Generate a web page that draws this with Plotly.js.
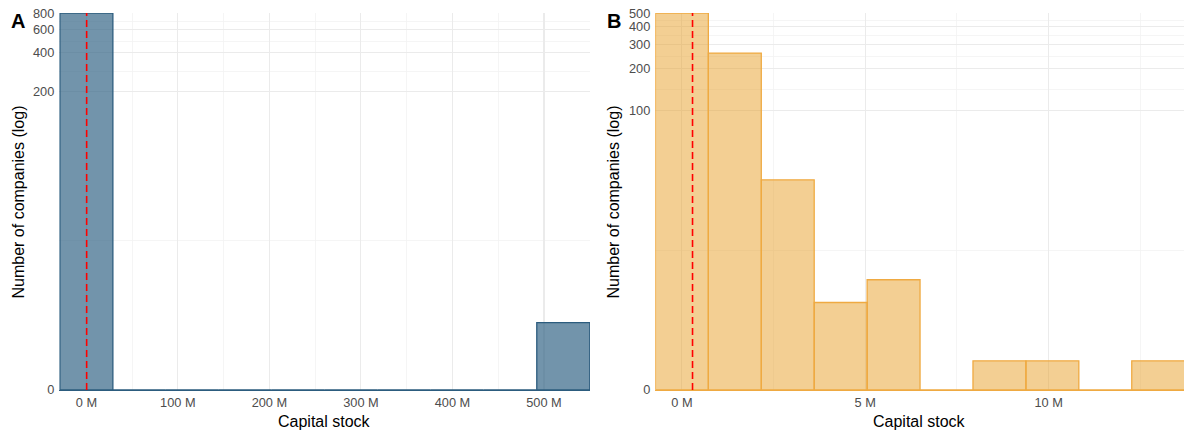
<!DOCTYPE html>
<html>
<head>
<meta charset="utf-8">
<script src="https://cdn.plot.ly/plotly-3.0.1.min.js"></script>
<style>html,body{margin:0;padding:0;background:#fff;}#chart{width:1184px;height:432px;}</style>
</head>
<body>
<div id="chart"></div>
<script>
// ---- data (capital stock in millions) ----
const countsA = [806, 0, 0, 0, 0, 0, 0, 0, 0, 3];
const binWidthA = 57.9;        // M
const firstBinCenterA = 0;     // M
const countsB = [502, 259, 32, 4, 6, 0, 1, 1, 0, 1];
const binWidthB = 1.443;       // M
const firstBinCenterB = 0;     // M
const medianCapital = 0.29;    // M (red dashed line)
const yTicksA = [0, 200, 400, 600, 800];
const yTicksB = [0, 100, 200, 300, 400, 500];
const xTicksA = [0, 100, 200, 300, 400, 500];
const xTicksB = [0, 5, 10];

// pseudo-log transform (asinh(x/2)/ln10)
const tr = v => Math.asinh(v / 2) / Math.LN10;
const mids = arr => { const o = []; for (let i = 0; i < arr.length - 1; i++) o.push((tr(arr[i]) + tr(arr[i + 1])) / 2); return o; };

const centersA = countsA.map((_, i) => firstBinCenterA + i * binWidthA);
const centersB = countsB.map((_, i) => firstBinCenterB + i * binWidthB);

const W = 1184, PT = 13, PB = 390;
const px2x = p => p / W;
const px2y = p => (PB - p) / (PB - PT);

const blueLine = 'rgb(44,92,126)';
const blueFill = 'rgba(44,95,130,0.67)';
const orangeLine = 'rgb(239,170,66)';
const orangeFill = 'rgba(232,160,40,0.5)';

const traces = [
  { type: 'bar', x: centersA, y: countsA.map(tr), width: binWidthA, xaxis: 'x', yaxis: 'y',
    marker: { color: blueFill, line: { color: blueLine, width: 1.3 } },
    customdata: countsA, hovertemplate: '%{customdata}<extra></extra>' },
  { type: 'bar', x: centersB, y: countsB.map(tr), width: binWidthB, xaxis: 'x2', yaxis: 'y2',
    marker: { color: orangeFill, line: { color: orangeLine, width: 1.3 } },
    customdata: countsB, hovertemplate: '%{customdata}<extra></extra>' }
];

const tickFont = { family: 'Liberation Sans, Arial, sans-serif', size: 12.8, color: '#4d4d4d' };
const titleFont = { family: 'Liberation Sans, Arial, sans-serif', size: 16, color: '#000' };
const gridMajor = '#ebebeb', gridMinor = '#f2f2f2';

function xAxis(domain, ticks, minorVals, range, lineColor) {
  return {
    domain, range, tickmode: 'array', tickvals: ticks, ticktext: ticks.map(v => v + ' M'),
    showgrid: true, gridcolor: gridMajor, gridwidth: 1.1, zeroline: false,
    showline: true, linecolor: lineColor, linewidth: 1.3,
    ticks: '', tickfont: tickFont, ticklabelstandoff: 0,
    minor: { tickmode: 'array', tickvals: minorVals, showgrid: true, gridcolor: gridMinor, gridwidth: 0.8, ticks: '' }
  };
}
function yAxis(ticks, maxCount, anchor) {
  return {
    domain: [0, 1], range: [0, tr(maxCount)], anchor,
    tickmode: 'array', tickvals: ticks.map(tr), ticktext: ticks.map(String),
    showgrid: true, gridcolor: gridMajor, gridwidth: 1.1, zeroline: false, showline: false,
    ticks: '', tickfont: tickFont, ticklabelstandoff: 4,
    minor: { tickmode: 'array', tickvals: mids(ticks), showgrid: true, gridcolor: gridMinor, gridwidth: 0.8, ticks: '' }
  };
}

const layout = {
  width: 1184, height: 432,
  margin: { l: 0, r: 0, t: PT, b: 432 - PB },
  paper_bgcolor: '#fff', plot_bgcolor: '#fff',
  showlegend: false, bargap: 0,
  xaxis: xAxis([59.3 / W, 590 / W], xTicksA, [50, 150, 250, 350, 450, 550], [-29.6, 550.3], blueLine),
  yaxis: yAxis(yTicksA, Math.max(...countsA), 'x'),
  xaxis2: Object.assign(xAxis([655.3 / W, 1], xTicksB, [2.5, 7.5, 12.5], [-0.725, 13.69], orangeLine), { anchor: 'y2' }),
  yaxis2: yAxis(yTicksB, Math.max(...countsB), 'x2'),
  shapes: [
    { type: 'line', xref: 'x', yref: 'y domain', x0: medianCapital, x1: medianCapital, y0: 0, y1: 1,
      line: { color: '#ff0000', width: 1.6, dash: '7px,4px' } },
    { type: 'line', xref: 'x2', yref: 'y2 domain', x0: medianCapital, x1: medianCapital, y0: 0, y1: 1,
      line: { color: '#ff0000', width: 1.6, dash: '7px,4px' } }
  ],
  annotations: [
    { text: '<b>A</b>', xref: 'paper', yref: 'paper', x: px2x(9), y: px2y(21), xanchor: 'left', yanchor: 'middle',
      showarrow: false, font: { family: 'Liberation Sans, Arial, sans-serif', size: 20, color: '#000' } },
    { text: '<b>B</b>', xref: 'paper', yref: 'paper', x: px2x(605.5), y: px2y(21), xanchor: 'left', yanchor: 'middle',
      showarrow: false, font: { family: 'Liberation Sans, Arial, sans-serif', size: 20, color: '#000' } },
    { text: 'Number of companies (log)', xref: 'paper', yref: 'paper', x: px2x(17.5), y: px2y(202), textangle: -90,
      xanchor: 'center', yanchor: 'middle', showarrow: false, font: titleFont },
    { text: 'Number of companies (log)', xref: 'paper', yref: 'paper', x: px2x(612.5), y: px2y(202), textangle: -90,
      xanchor: 'center', yanchor: 'middle', showarrow: false, font: titleFont },
    { text: 'Capital stock', xref: 'paper', yref: 'paper', x: px2x(324.6), y: px2y(421), 
      xanchor: 'center', yanchor: 'middle', showarrow: false, font: titleFont },
    { text: 'Capital stock', xref: 'paper', yref: 'paper', x: px2x(919.6), y: px2y(421),
      xanchor: 'center', yanchor: 'middle', showarrow: false, font: titleFont }
  ]
};

Plotly.newPlot('chart', traces, layout, { displayModeBar: false, staticPlot: true });
</script>
</body>
</html>
